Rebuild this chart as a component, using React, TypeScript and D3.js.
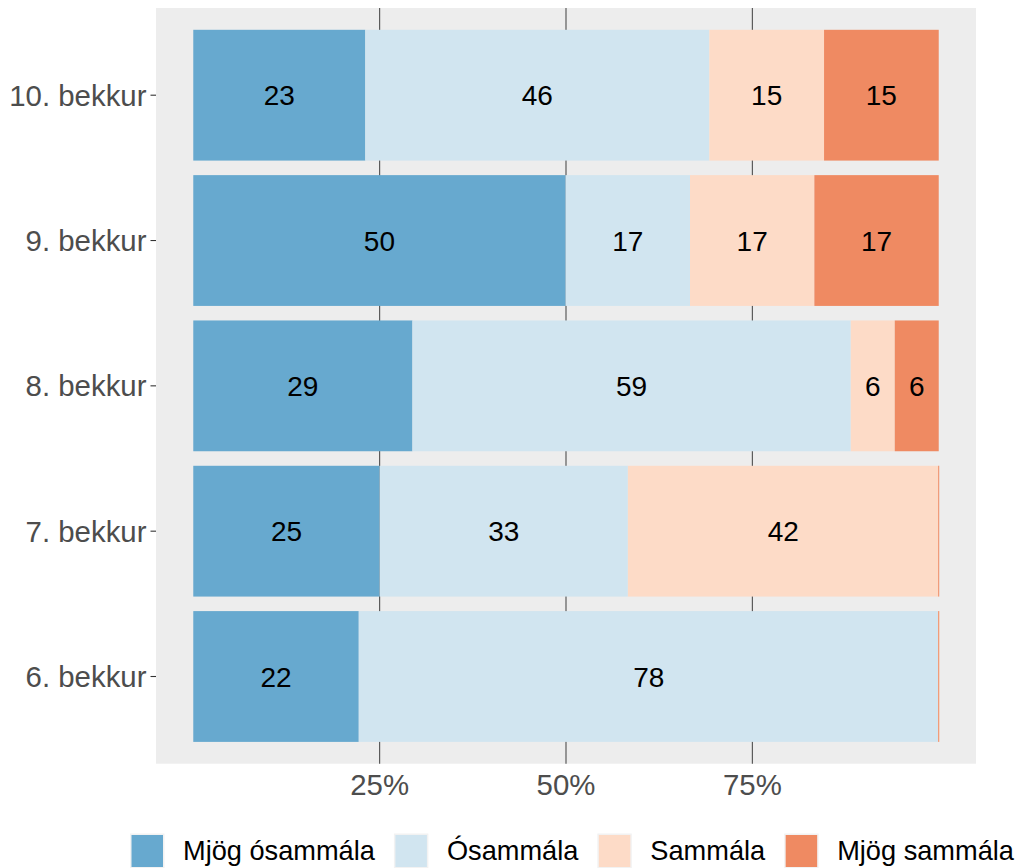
import React, { useMemo } from 'react';
import * as d3 from 'd3';

const grades = ['10. bekkur', '9. bekkur', '8. bekkur', '7. bekkur', '6. bekkur'];
const responses = ['Mjög ósammála', 'Ósammála', 'Sammála', 'Mjög sammála'];
const colors = ['#67A9CF', '#D1E5F0', '#FDDBC7', '#EF8A62'];
const mjogOsammala = [23.1, 50.0, 29.4, 25.0, 22.2];
const osammala = [46.2, 16.7, 58.8, 33.3, 77.8];
const sammala = [15.4, 16.7, 5.9, 41.7, 0];
const mjogSammala = [15.4, 16.7, 5.9, 0, 0];
const xTicks = [0.25, 0.5, 0.75];
const xTickLabels = ['25%', '50%', '75%'];

const W = 1025;
const H = 868;
const panel = { left: 156, right: 976, top: 8, bottom: 763.7 };
const FONT = '"Liberation Sans", Arial, Helvetica, sans-serif';
const axisSize = 29.4;
const labelSize = 28;
const legendSize = 27.2;

function measure(text: string, size: number) {
  const c = document.createElement('canvas');
  const ctx = c.getContext('2d')!;
  ctx.font = `${size}px "Liberation Sans", Arial`;
  return ctx.measureText(text).width;
}

export default function App() {
  const rows = grades.map((g, i) => ({
    grade: g,
    [responses[0]]: mjogOsammala[i],
    [responses[1]]: osammala[i],
    [responses[2]]: sammala[i],
    [responses[3]]: mjogSammala[i],
  }));
  const series = d3.stack<any>().keys(responses).offset(d3.stackOffsetExpand)(rows);

  const x = d3.scaleLinear().domain([-0.05, 1.05]).range([panel.left, panel.right]);
  const y = d3.scalePoint<string>().domain(grades).range([panel.top, panel.bottom]).padding(0.6);
  const barH = y.step() * 0.9;

  const legend = useMemo(() => {
    let cx = 130;
    return responses.map((r, i) => {
      const item = { r, i, keyX: cx, textX: cx + 34 + 19 };
      cx = item.textX + measure(r, legendSize) + 19;
      return item;
    });
  }, []);

  return (
    <svg width={W} height={H} style={{ position: 'absolute', left: 0, top: 0, fontFamily: FONT }}>
      <rect x={0} y={0} width={W} height={H} fill="#FFFFFF" />
      <rect x={panel.left} y={panel.top} width={panel.right - panel.left} height={panel.bottom - panel.top} fill="#EDEDED" />
      {xTicks.map((t) => (
        <line key={t} x1={x(t)} x2={x(t)} y1={panel.top} y2={panel.bottom} stroke="#4D4D4D" strokeWidth={1.1} />
      ))}
      {series.map((s, si) =>
        s.map((d, di) => {
          const x0 = x(d[0]);
          const x1 = x(d[1]);
          const yc = y(grades[di])!;
          const w = x1 - x0;
          if (w <= 0.01) {
            return (
              <line key={`${si}-${di}`} x1={x0} x2={x0} y1={yc - barH / 2} y2={yc + barH / 2} stroke={colors[si]} strokeWidth={1} />
            );
          }
          return <rect key={`${si}-${di}`} x={x0} y={yc - barH / 2} width={w} height={barH} fill={colors[si]} />;
        })
      )}
      {series.map((s, si) =>
        s.map((d, di) => {
          const v = d[1] - d[0];
          if (v <= 0.0001) return null;
          const yc = y(grades[di])!;
          return (
            <text key={`t${si}-${di}`} x={x((d[0] + d[1]) / 2)} y={yc + labelSize * 0.36} textAnchor="middle" fontSize={labelSize} fill="#000">
              {Math.round(v * 100)}
            </text>
          );
        })
      )}
      {grades.map((g) => (
        <g key={g}>
          <line x1={panel.left - 5.5} x2={panel.left} y1={y(g)} y2={y(g)} stroke="#333333" strokeWidth={1.1} />
          <text x={panel.left - 9.5} y={y(g)! + axisSize * 0.36} textAnchor="end" fontSize={axisSize} fill="#4D4D4D">
            {g}
          </text>
        </g>
      ))}
      {xTicks.map((t, i) => (
        <text key={t} x={x(t)} y={795} textAnchor="middle" fontSize={axisSize} fill="#4D4D4D">
          {xTickLabels[i]}
        </text>
      ))}
      {legend.map((l) => (
        <g key={l.r}>
          <rect x={l.keyX} y={833.5} width={34.5} height={35} fill="#F2F2F2" />
          <rect x={l.keyX + 1.5} y={835} width={31.5} height={32} fill={colors[l.i]} />
          <text x={l.textX} y={859.5} fontSize={legendSize} fill="#000">
            {l.r}
          </text>
        </g>
      ))}
    </svg>
  );
}
